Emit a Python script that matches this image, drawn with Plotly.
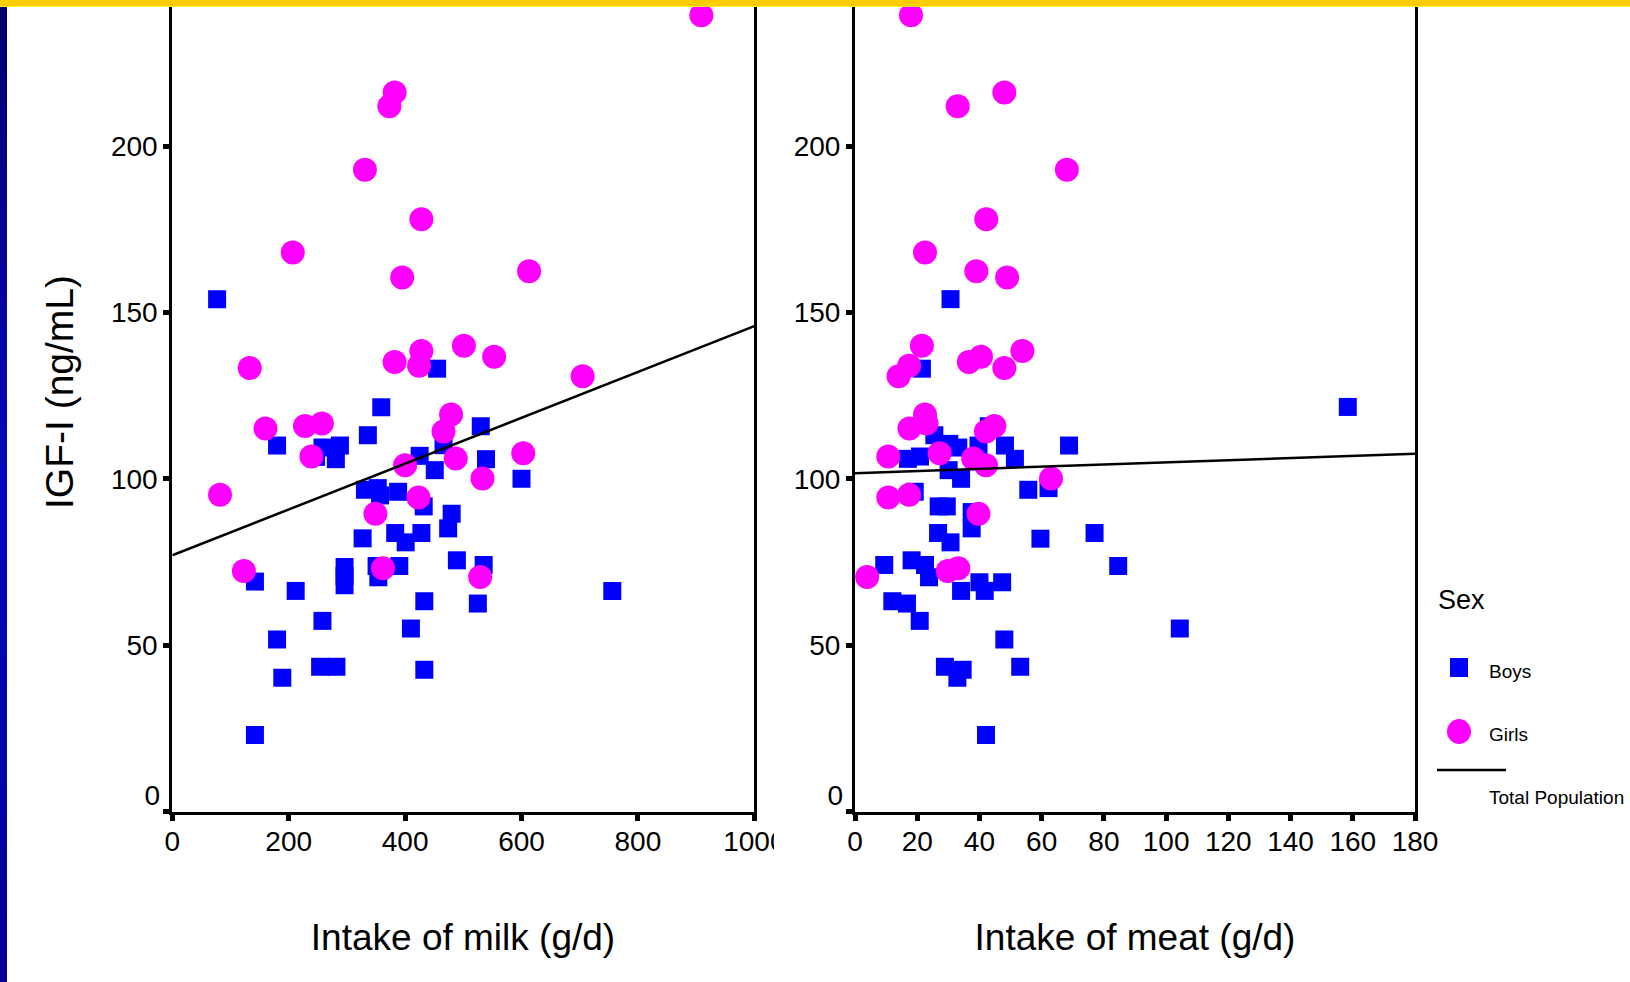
import plotly.graph_objects as go

W, H = 1630, 982

# ---------------- data ----------------
milk_ticks = [0, 200, 400, 600, 800, 1000]
meat_ticks = [0, 20, 40, 60, 80, 100, 120, 140, 160, 180]
igf_ticks = [0, 50, 100, 150, 200]

# Boys, milk panel
milk_boys_x = [77, 455, 359, 530, 336, 180, 288, 466, 258, 247, 425, 281, 539, 451, 600,
               331, 353, 357, 388, 432, 480, 474, 383, 428, 401, 327, 489, 535, 351, 390,
               296, 296, 354, 142, 296, 212, 756, 433, 525, 258, 410, 180, 254, 282, 433,
               189, 142]
milk_boys_igf = [154.0, 133.1, 121.5, 115.8, 113.1, 110.0, 110.0, 110.1, 109.4, 106.6, 106.9,
                 105.9, 105.9, 102.6, 100.0, 96.7, 97.2, 95.0, 96.1, 91.7, 89.5, 85.1, 83.7,
                 83.7, 80.9, 82.1, 75.5, 74.1, 73.8, 73.8, 73.5, 70.8, 70.4, 69.1, 68.0, 66.3,
                 66.3, 63.2, 62.5, 57.3, 55.0, 51.7, 43.5, 43.5, 42.6, 40.2, 23.0]

# Girls, milk panel
milk_girls_x = [909, 382, 373, 331, 428, 207, 613, 395, 501, 428, 553, 382, 424, 133, 705,
                479, 257, 228, 160, 466, 603, 239, 487, 400, 533, 82, 423, 349, 362, 123, 529]
milk_girls_igf = [239.3, 216.1, 212.0, 192.9, 178.0, 168.0, 162.4, 160.5, 140.0, 138.4, 136.7,
                  135.1, 134.0, 133.3, 130.8, 119.3, 116.6, 115.9, 115.1, 114.2, 107.7, 106.7,
                  106.1, 104.1, 100.1, 95.2, 94.4, 89.5, 73.1, 72.3, 70.5]

# Boys, meat panel
meat_boys_x = [30.7, 21.5, 158.4, 43.0, 25.5, 30.3, 39.7, 48.2, 68.8, 33.2, 20.9, 17.0, 51.4,
               30.1, 34.1, 19.2, 55.7, 62.2, 26.9, 29.5, 37.5, 37.5, 26.7, 77.0, 59.6, 30.7,
               18.2, 9.4, 22.5, 84.6, 23.8, 40.0, 47.3, 41.7, 34.1, 12.0, 16.7, 20.8, 104.4,
               48.0, 28.9, 53.1, 34.6, 32.9, 42.1]
meat_boys_igf = [154.0, 133.1, 121.6, 115.8, 113.1, 110.5, 110.0, 110.0, 110.0, 109.4, 106.7,
                 106.0, 106.0, 102.6, 100.0, 96.1, 96.7, 97.2, 91.7, 91.7, 90.0, 85.1, 83.7,
                 83.7, 82.0, 80.9, 75.5, 74.1, 74.1, 73.8, 70.4, 68.9, 68.9, 66.3, 66.3, 63.2,
                 62.5, 57.3, 55.0, 51.7, 43.5, 43.5, 42.6, 40.2, 23.0]

# Girls, meat panel
meat_girls_x = [18.0, 48.0, 33.0, 68.1, 42.2, 22.5, 39.0, 48.9, 21.5, 53.8, 40.5, 36.6, 17.4,
                48.0, 14.0, 22.5, 23.0, 44.8, 17.5, 42.1, 27.2, 10.7, 38.0, 42.1, 63.0, 17.4,
                10.7, 39.7, 33.2, 29.8, 3.9]
meat_girls_igf = milk_girls_igf

# Total-population fit lines
milk_fit_x = [0, 1000]
milk_fit_y = [77.0, 145.9]
meat_fit_x = [0, 180]
meat_fit_y = [101.7, 107.5]

# ---------------- styling ----------------
FONT = "Liberation Sans, Arial, sans-serif"
BOY = "#0000FF"
GIRL = "#FF00FF"


def px(x):
    return x / W


def py(y):
    return 1 - y / H


Y_TOP = 811.5 / 3.327  # value at the top edge of the window

fig = go.Figure()

# milk panel
fig.add_trace(go.Scatter(x=milk_boys_x, y=milk_boys_igf, mode="markers", xaxis="x", yaxis="y",
                         marker=dict(symbol="square", size=18, color=BOY, line=dict(width=0)),
                         name="Boys", showlegend=False))
fig.add_trace(go.Scatter(x=milk_girls_x, y=milk_girls_igf, mode="markers", xaxis="x", yaxis="y",
                         marker=dict(symbol="circle", size=24, color=GIRL, line=dict(width=0)),
                         name="Girls", showlegend=False))
fig.add_trace(go.Scatter(x=milk_fit_x, y=milk_fit_y, mode="lines", xaxis="x", yaxis="y",
                         line=dict(color="black", width=2.5), name="Total Population",
                         showlegend=False))
# meat panel
fig.add_trace(go.Scatter(x=meat_boys_x, y=meat_boys_igf, mode="markers", xaxis="x2", yaxis="y2",
                         marker=dict(symbol="square", size=18, color=BOY, line=dict(width=0)),
                         name="Boys", showlegend=False))
fig.add_trace(go.Scatter(x=meat_girls_x, y=meat_girls_igf, mode="markers", xaxis="x2", yaxis="y2",
                         marker=dict(symbol="circle", size=24, color=GIRL, line=dict(width=0)),
                         name="Girls", showlegend=False))
fig.add_trace(go.Scatter(x=meat_fit_x, y=meat_fit_y, mode="lines", xaxis="x2", yaxis="y2",
                         line=dict(color="black", width=2.5), name="Total Population",
                         showlegend=False))

# free text on a full-figure pixel overlay (x3/y3)
texts = [
    # text, x, y, size, position
    ("Intake of milk (g/d)", 463, 941, 37, "middle center"),
    ("Intake of meat (g/d)", 1135, 941, 37, "middle center"),
    ("0", 160, 798, 28, "middle left"),
    ("0", 843, 798, 28, "middle left"),
    ("Sex", 1438, 602, 27, "middle right"),
    ("Boys", 1489, 673, 19, "middle right"),
    ("Girls", 1489, 736, 19, "middle right"),
    ("Total Population", 1489, 799, 19, "middle right"),
]
for s, x, y, size, pos in texts:
    fig.add_trace(go.Scatter(x=[x], y=[y], mode="text", text=[s], textposition=pos,
                             textfont=dict(family=FONT, size=size, color="black"),
                             xaxis="x3", yaxis="y3", hoverinfo="skip", showlegend=False))
# carrier trace for the rotated y title axis
fig.add_trace(go.Scatter(x=[None], y=[None], xaxis="x3", yaxis="y4", mode="markers",
                         hoverinfo="skip", showlegend=False))

axis_common = dict(showline=True, linecolor="black", linewidth=3, mirror=True,
                   ticks="outside", ticklen=6, tickwidth=5, tickcolor="black",
                   showgrid=False, zeroline=False, automargin=False,
                   tickfont=dict(family=FONT, size=28, color="black"))

y_ticktext = ["" if v == 0 else str(v) for v in igf_ticks]

fig.update_layout(
    template="none",
    width=W, height=H, autosize=False,
    margin=dict(l=0, r=0, t=0, b=0, pad=0, autoexpand=False),
    paper_bgcolor="white", plot_bgcolor="rgba(0,0,0,0)",
    showlegend=False,
    xaxis=dict(domain=[px(172.3), px(754.3)], range=[0, 1000], anchor="y",
               tickvals=milk_ticks, ticktext=[str(v) for v in milk_ticks],
               ticklabelstandoff=-3, **axis_common),
    yaxis=dict(domain=[py(811.5), 1], range=[0, Y_TOP], anchor="x",
               tickvals=igf_ticks, ticktext=y_ticktext, ticklabelstandoff=0, **axis_common),
    xaxis2=dict(domain=[px(855), px(1415)], range=[0, 180], anchor="y2",
                tickvals=meat_ticks, ticktext=[str(v) for v in meat_ticks],
                ticklabelstandoff=-3, **axis_common),
    yaxis2=dict(domain=[py(811.5), 1], range=[0, Y_TOP], anchor="x2",
                tickvals=igf_ticks, ticktext=y_ticktext, ticklabelstandoff=0, **axis_common),
    xaxis3=dict(domain=[0, 1], range=[0, W], visible=False, fixedrange=True, anchor="y3",
                automargin=False),
    yaxis3=dict(domain=[0, 1], range=[H, 0], visible=False, fixedrange=True, anchor="x3",
                automargin=False),
    yaxis4=dict(domain=[py(784), 1], range=[0, 1], anchor="free", position=px(87),
                side="left", showline=False, showticklabels=False, ticks="",
                showgrid=False, zeroline=False, fixedrange=True, automargin=False,
                title=dict(text="IGF-I (ng/mL)", standoff=0,
                           font=dict(family=FONT, size=39, color="black"))),
)

shapes = []
# left decorative blue band (vertical gradient)
n = 30
top_c = (0, 0, 0x70)
mid_c = (0x08, 0x08, 0xC0)
bot_c = (0, 0, 0x95)
for i in range(n):
    t = i / (n - 1)
    if t < 0.5:
        a, b, u = top_c, mid_c, t / 0.5
    else:
        a, b, u = mid_c, bot_c, (t - 0.5) / 0.5
    c = tuple(int(a[k] + (b[k] - a[k]) * u) for k in range(3))
    y0 = 6 + (H - 6) * i / n
    y1 = 6 + (H - 6) * (i + 1) / n + 1
    shapes.append(dict(type="rect", xref="paper", yref="paper", x0=0, x1=px(7),
                       y0=py(y1), y1=py(y0), fillcolor="rgb(%d,%d,%d)" % c,
                       line=dict(width=0), layer="above"))
# top yellow band
shapes.append(dict(type="rect", xref="paper", yref="paper", x0=0, x1=1, y0=py(7), y1=py(6),
                   fillcolor="#FFEE33", line=dict(width=0), layer="above"))
shapes.append(dict(type="rect", xref="paper", yref="paper", x0=0, x1=1, y0=py(6), y1=1,
                   fillcolor="#FFCC00", line=dict(width=0), layer="above"))
# clip of the "1000" label
shapes.append(dict(type="rect", xref="paper", yref="paper", x0=px(774), x1=px(830),
                   y0=py(868), y1=py(826), fillcolor="white", line=dict(width=0), layer="above"))
# legend glyphs
shapes.append(dict(type="rect", xref="paper", yref="paper", x0=px(1450), x1=px(1468),
                   y0=py(677), y1=py(658), fillcolor=BOY, line=dict(width=0)))
shapes.append(dict(type="circle", xref="paper", yref="paper", x0=px(1447), x1=px(1471),
                   y0=py(744), y1=py(719), fillcolor=GIRL, line=dict(width=0)))
shapes.append(dict(type="line", xref="paper", yref="paper", x0=px(1437), x1=px(1506),
                   y0=py(770), y1=py(770), line=dict(color="black", width=2.5)))
fig.update_layout(shapes=shapes)

fig.write_html(
    "out.html",
    config={"responsive": False, "displayModeBar": False},
    post_script="document.documentElement.style.margin='0';document.body.style.margin='0';"
                "document.body.style.padding='0';document.body.style.overflow='hidden';",
)
